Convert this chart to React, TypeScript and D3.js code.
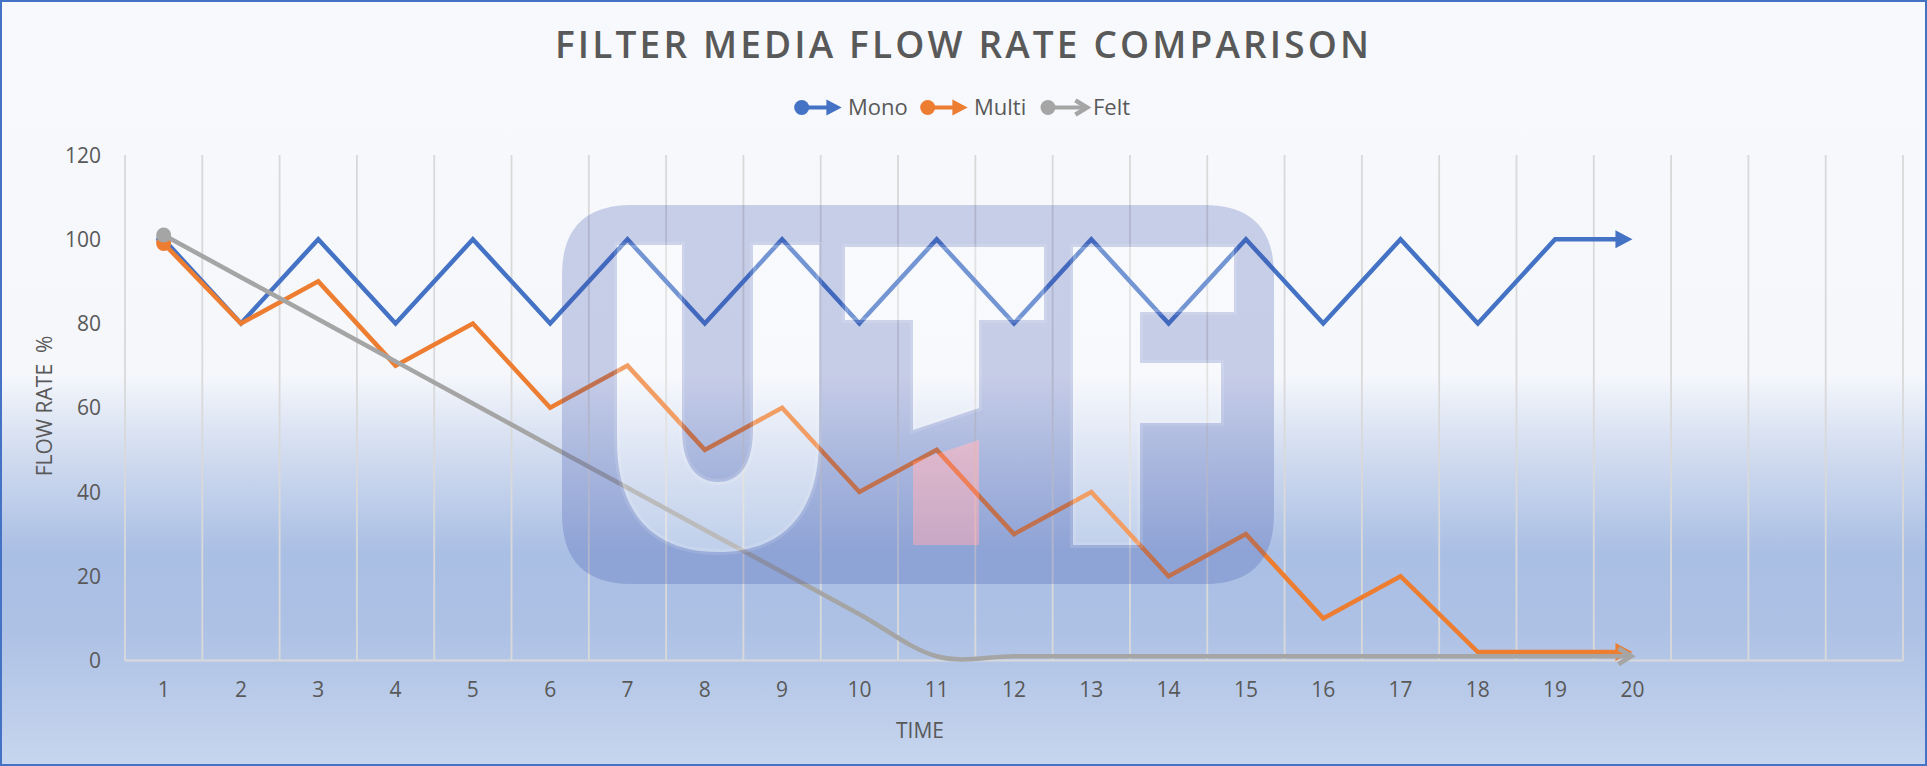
import * as d3 from "d3";
import { useEffect, useRef } from "react";

// chart data
const categories = [1, 2, 3, 4, 5, 6, 7, 8, 9, 10, 11, 12, 13, 14, 15, 16, 17, 18, 19, 20];
const monoValues = [100, 80, 100, 80, 100, 80, 100, 80, 100, 80, 100, 80, 100, 80, 100, 80, 100, 80, 100, 100];
const multiValues = [99, 80, 90, 70, 80, 60, 70, 50, 60, 40, 50, 30, 40, 20, 30, 10, 20, 2, 2, 2];
const feltValues = [101, 91, 81, 71, 61, 51, 41, 31, 21, 11, 1, 1, 1, 1, 1, 1, 1, 1, 1, 1];
const seriesNames = ["Mono", "Multi", "Felt"];
const yTicks = [0, 20, 40, 60, 80, 100, 120];
const emptySlots = 3; // blank categories after 20 on the axis

const W = 1927;
const H = 766;
const TEXT = "#595959";
const FONT = "'Open Sans', sans-serif";

const App = () => {
  const ref = useRef<SVGSVGElement>(null);

  useEffect(() => {
    if (!ref.current) return;
    const svg = d3.select(ref.current);
    svg.selectAll("*").remove();

    const left = 125;
    const right = 1903;
    const top = 155;
    const bottom = 660.5;

    const x = d3
      .scaleLinear()
      .domain([0.5, categories.length + emptySlots + 0.5])
      .range([left, right]);
    const y = d3.scaleLinear().domain([0, 120]).range([bottom, top]);

    const series = [
      { name: seriesNames[0], values: monoValues, color: "#4472c4", smooth: false, open: false },
      { name: seriesNames[1], values: multiValues, color: "#ed7d31", smooth: false, open: false },
      { name: seriesNames[2], values: feltValues, color: "#a5a5a5", smooth: true, open: true },
    ];

    // background gradient
    const defs = svg.append("defs");
    const grad = defs
      .append("linearGradient")
      .attr("id", "bgGrad")
      .attr("x1", 0)
      .attr("y1", 0)
      .attr("x2", 0)
      .attr("y2", 1);
    [
      [0, "#f7f9fc"],
      [0.49, "#f5f7fb"],
      [0.51, "#edf1f9"],
      [0.6, "#cfdaef"],
      [0.72, "#aabfe4"],
      [0.82, "#adc1e5"],
      [1, "#c7d6ee"],
    ].forEach(([o, c]) => grad.append("stop").attr("offset", o as number).attr("stop-color", c as string));

    svg.append("rect").attr("width", W).attr("height", H).attr("fill", "url(#bgGrad)");
    svg
      .append("rect")
      .attr("x", 1)
      .attr("y", 1)
      .attr("width", W - 2)
      .attr("height", H - 2)
      .attr("fill", "none")
      .attr("stroke", "#4472c4")
      .attr("stroke-width", 2);

    // title
    svg
      .append("text")
      .attr("x", 962)
      .attr("y", 58)
      .attr("text-anchor", "middle")
      .attr("textLength", 814)
      .attr("lengthAdjust", "spacing")
      .style("font-family", FONT)
      .style("font-weight", 600)
      .style("font-size", "37px")
      .style("fill", TEXT)
      .text("FILTER MEDIA FLOW RATE COMPARISON");

    // vertical gridlines at category boundaries
    const bounds = d3.range(0, categories.length + emptySlots + 1).map((i) => i + 0.5);
    svg
      .append("g")
      .selectAll("line")
      .data(bounds)
      .enter()
      .append("line")
      .attr("x1", (d) => x(d))
      .attr("x2", (d) => x(d))
      .attr("y1", top)
      .attr("y2", bottom)
      .attr("stroke", "#d9d9d9")
      .attr("stroke-width", 1.8);

    // x axis line
    svg
      .append("line")
      .attr("x1", left)
      .attr("x2", right)
      .attr("y1", bottom)
      .attr("y2", bottom)
      .attr("stroke", "#d9d9d9")
      .attr("stroke-width", 2);

    // y tick labels
    svg
      .append("g")
      .selectAll("text")
      .data(yTicks)
      .enter()
      .append("text")
      .attr("x", 101)
      .attr("y", (d) => y(d))
      .attr("dy", "0.36em")
      .attr("text-anchor", "end")
      .style("font-family", FONT)
      .style("font-size", "21px")
      .style("fill", TEXT)
      .text((d) => d);

    // x tick labels
    svg
      .append("g")
      .selectAll("text")
      .data(categories)
      .enter()
      .append("text")
      .attr("x", (d) => x(d))
      .attr("y", 697)
      .attr("text-anchor", "middle")
      .style("font-family", FONT)
      .style("font-size", "21px")
      .style("fill", TEXT)
      .text((d) => d);

    // axis titles
    svg
      .append("text")
      .attr("transform", "translate(52,406) rotate(-90)")
      .attr("text-anchor", "middle")
      .style("font-family", FONT)
      .style("font-size", "21px")
      .style("fill", TEXT)
      .style("white-space", "pre")
      .text("FLOW RATE  %");
    svg
      .append("text")
      .attr("x", 920)
      .attr("y", 738)
      .attr("text-anchor", "middle")
      .style("font-family", FONT)
      .style("font-size", "21px")
      .style("fill", TEXT)
      .text("TIME");

    // arrow head helper
    const drawHead = (
      g: d3.Selection<SVGGElement, unknown, null, undefined>,
      tx: number,
      ty: number,
      angle: number,
      color: string,
      open: boolean,
      scale = 1
    ) => {
      const t = `translate(${tx},${ty}) rotate(${angle}) scale(${scale})`;
      if (open) {
        g.append("path")
          .attr("d", "M-14,-8L-1,0L-14,8")
          .attr("transform", t)
          .attr("fill", "none")
          .attr("stroke", color)
          .attr("stroke-width", 4.5 / scale);
      } else {
        g.append("path").attr("d", "M0,0L-17,-9L-17,9Z").attr("transform", t).attr("fill", color);
      }
    };

    // series lines
    const lines = svg.append("g");
    series.forEach((s) => {
      const pts: [number, number][] = s.values.map((v, i) => [x(categories[i]), y(v)]);
      const n = pts.length;
      const [ex, ey] = pts[n - 1];
      const [px, py] = pts[n - 2];
      const ang = Math.atan2(ey - py, ex - px);
      const back = s.open ? 3 : 12;
      const drawPts = pts.slice();
      drawPts[n - 1] = [ex - back * Math.cos(ang), ey - back * Math.sin(ang)];

      const line = d3
        .line<[number, number]>()
        .x((d) => d[0])
        .y((d) => d[1])
        .curve(s.smooth ? d3.curveCardinal.tension(0) : d3.curveLinear);

      lines
        .append("path")
        .attr("d", line(drawPts))
        .attr("fill", "none")
        .attr("stroke", s.color)
        .attr("stroke-width", 4.5)
        .attr("stroke-linejoin", "miter");

      lines
        .append("circle")
        .attr("cx", pts[0][0])
        .attr("cy", pts[0][1])
        .attr("r", 7.5)
        .attr("fill", s.color);

      drawHead(lines, ex, ey, (ang * 180) / Math.PI, s.color, s.open);
    });

    // legend
    const legendCx = [801.7, 927.7, 1048];
    const legendTx = [848, 974, 1093];
    const legend = svg.append("g");
    series.forEach((s, i) => {
      const cx = legendCx[i];
      const ly = 107.5;
      legend.append("circle").attr("cx", cx).attr("cy", ly).attr("r", 7.5).attr("fill", s.color);
      legend
        .append("line")
        .attr("x1", cx)
        .attr("x2", cx + (s.open ? 37 : 28))
        .attr("y1", ly)
        .attr("y2", ly)
        .attr("stroke", s.color)
        .attr("stroke-width", 4);
      drawHead(legend, cx + 40, ly, 0, s.color, s.open, 0.9);
      legend
        .append("text")
        .attr("x", legendTx[i])
        .attr("y", 115)
        .style("font-family", FONT)
        .style("font-size", "22px")
        .style("fill", TEXT)
        .text(s.name);
    });

    // UTF watermark laid over the plot
    const rectPath = (x0: number, y0: number, x1: number, y1: number, r: number) =>
      `M${x0 + r},${y0}H${x1 - r}Q${x1},${y0} ${x1},${y0 + r}V${y1 - r}Q${x1},${y1} ${x1 - r},${y1}H${x0 + r}Q${x0},${y1} ${x0},${y1 - r}V${y0 + r}Q${x0},${y0} ${x0 + r},${y0}Z`;
    const letterU =
      "M617,245L682,245L682,430C682,465 697,482 718,482C739,482 753,465 753,430L753,245L819,245L819,440C819,512 784,552 718,552C652,552 617,512 617,440Z";
    const letterT = "M845,247L1044,247L1044,320L979,320L979,408L913,430L913,320L845,320Z";
    const letterF =
      "M1073,247L1234,247L1234,312L1140,312L1140,363L1221,363L1221,423L1140,423L1140,545L1073,545Z";
    const redBlock = "M913,462L979,440L979,545L913,545Z";

    const mark = svg.append("g");
    mark
      .append("path")
      .attr("d", rectPath(562, 205, 1274, 584, 70) + letterU + letterT + letterF + redBlock)
      .attr("fill-rule", "evenodd")
      .attr("fill", "rgb(60,80,170)")
      .attr("fill-opacity", 0.25);
    mark
      .append("path")
      .attr("d", letterU + letterT + letterF)
      .attr("fill", "#ffffff")
      .attr("fill-opacity", 0.25)
      .attr("stroke", "#ffffff")
      .attr("stroke-opacity", 0.12)
      .attr("stroke-width", 6);
    mark
      .append("path")
      .attr("d", redBlock)
      .attr("fill", "rgb(240,130,150)")
      .attr("fill-opacity", 0.4);
  }, []);

  return (
    <div style={{ position: "absolute", left: 0, top: 0 }}>
      <svg ref={ref} width={W} height={H} style={{ display: "block" }} />
    </div>
  );
};

export default App;
